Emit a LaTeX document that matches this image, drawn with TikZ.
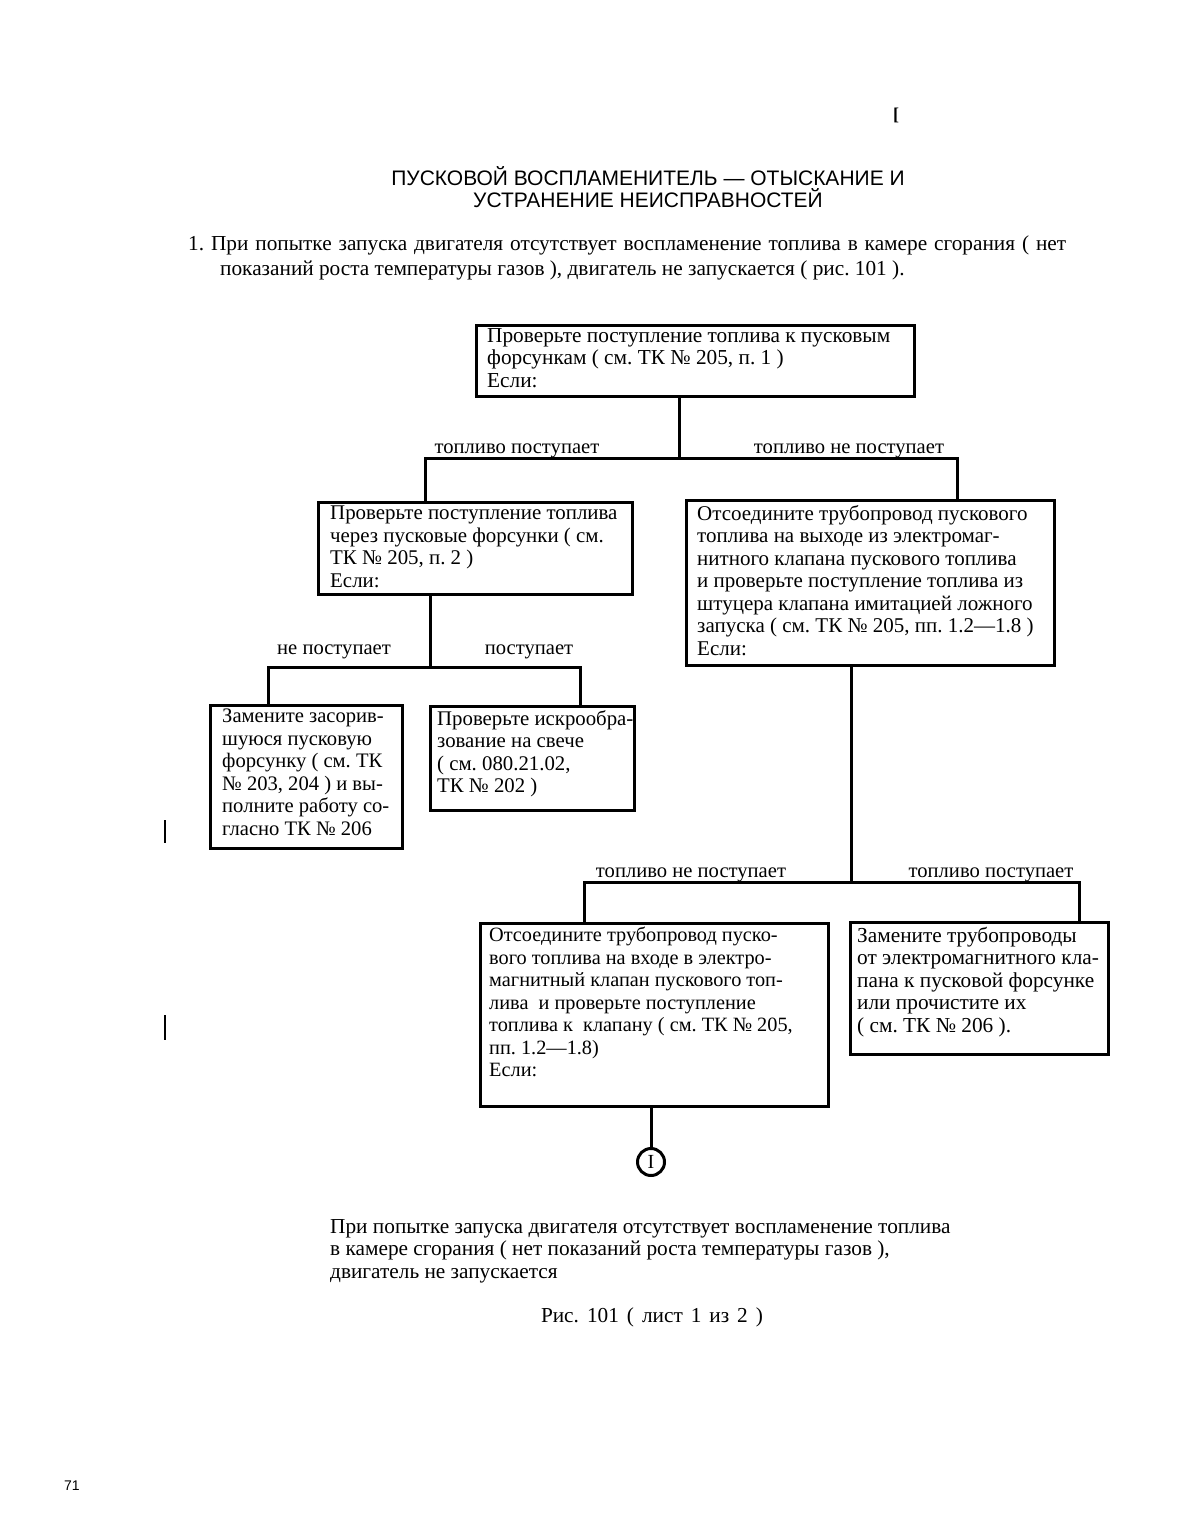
\documentclass[tikz,border=0pt]{standalone}
\usepackage{fontspec}
\setmainfont{Liberation Serif}
\newfontfamily\hsans{Liberation Sans}
\begin{document}
\frenchspacing
\begin{tikzpicture}[x=1pt,y=-1pt,
  box/.style={draw, line width=3pt, anchor=north west, inner sep=0pt},
  txt/.style={anchor=north west, align=left, inner sep=0pt, font=\fontsize{#1}{22.5}\selectfont},
  lbl/.style={anchor=base, inner sep=0pt, font=\fontsize{20.6}{22}\selectfont},
  conn/.style={line width=3pt},
  plain/.style={anchor=base west, inner sep=0pt, font=\fontsize{21.3}{22.5}\selectfont},
  head/.style={anchor=base, inner sep=0pt, font=\hsans\fontsize{21}{24}\selectfont}]
\useasboundingbox[fill=white] (0,0) rectangle (1198,1538);

% heading and text
\node[head] (h1) at (648,186) {ПУСКОВОЙ ВОСПЛАМЕНИТЕЛЬ — ОТЫСКАНИЕ И};
\node[head] (h2) at (648,208) {УСТРАНЕНИЕ НЕИСПРАВНОСТЕЙ};
\node[plain] (p1) at (188,251) {\makebox[878pt][s]{1. При попытке запуска двигателя отсутствует воспламенение топлива в камере сгорания ( нет}};
\node[plain] (p2) at (220,276) {показаний роста температуры газов ), двигатель не запускается ( рис. 101 ).};

% boxes
\node[box, minimum width=438pt, minimum height=71pt] (b1) at (474.5,323.5) {};
\node[box, minimum width=314pt, minimum height=92pt] (b2) at (316.5,500.5) {};
\node[box, minimum width=368pt, minimum height=165pt] (b3) at (684.5,498.5) {};
\node[box, minimum width=192pt, minimum height=143pt] (b4) at (208.5,703.5) {};
\node[box, minimum width=204pt, minimum height=104pt] (b5) at (428.5,704.5) {};
\node[box, minimum width=348pt, minimum height=183pt] (b6) at (478.5,921.5) {};
\node[box, minimum width=258pt, minimum height=132pt] (b7) at (848.5,920.5) {};

% box texts
\node[txt=21.3] (t1) at (487,328) {Проверьте поступление топлива к пусковым\\форсункам ( см. ТК № 205, п. 1 )\\Если:};
\node[txt=20.9] (t2) at (330,506) {Проверьте поступление топлива\\через пусковые форсунки ( см.\\ТК № 205, п. 2 )\\Если:};
\node[txt=21] (t3) at (697,505) {Отсоедините трубопровод пускового\\топлива на выходе из электромаг-\\нитного клапана пускового топлива\\и проверьте поступление топлива из\\штуцера клапана имитацией ложного\\запуска ( см. ТК № 205, пп. 1.2—1.8 )\\Если:};
\node[txt=20.6] (t4) at (222,709) {Замените засорив-\\шуюся пусковую\\форсунку ( см. ТК\\№ 203, 204 ) и вы-\\полните работу со-\\гласно ТК № 206};
\node[txt=20.8] (t5) at (437,710) {Проверьте искрообра-\\зование на свече\\( см. 080.21.02,\\ТК № 202 )};
\node[txt=20.3] (t6) at (489,927) {Отсоедините трубопровод пуско-\\вого топлива на входе в электро-\\магнитный клапан пускового топ-\\лива\ \ и проверьте поступление\\топлива к\ \ клапану ( см. ТК № 205,\\пп. 1.2—1.8)\\Если:};
\node[txt=21.3] (t7) at (857,927) {Замените трубопроводы\\от электромагнитного кла-\\пана к пусковой форсунке\\или прочистите их\\( см. ТК № 206 ).};

% junction coordinates
\coordinate (j1) at (679,458);
\coordinate (j1L) at (425,458);
\coordinate (j1R) at (957,458);
\coordinate (j2) at (430,667);
\coordinate (j2L) at (268,667);
\coordinate (j2R) at (580,667);
\coordinate (j3) at (851,882);
\coordinate (j3L) at (584,882);
\coordinate (j3R) at (1079,882);

% connectors
\draw[conn] (b1.south -| j1) -- (j1);
\draw[conn] (j1L |- b2.north) -- (j1L) -- (j1R) -- (j1R |- b3.north);
\draw[conn] (b2.south -| j2) -- (j2);
\draw[conn] (j2L |- b4.north) -- (j2L) -- (j2R) -- (j2R |- b5.north);
\draw[conn] (b3.south -| j3) -- (j3);
\draw[conn] (j3L |- b6.north) -- (j3L) -- (j3R) -- (j3R |- b7.north);

% connector labels
\node[lbl] (l1) at (517,453) {топливо поступает};
\node[lbl] (l2) at (849,453) {топливо не поступает};
\node[lbl] (l3) at (334,654) {не поступает};
\node[lbl] (l4) at (529,654) {поступает};
\node[lbl] (l5) at (691,877) {топливо не поступает};
\node[lbl] (l6) at (991,877) {топливо поступает};

% off-page connector
\node[draw, circle, line width=3pt, minimum size=27pt, inner sep=0pt, font=\fontsize{20}{22}\selectfont] (c1) at (651,1162) {I};
\draw[conn] (b6.south -| c1) -- (c1.north);

% caption
\node[plain] (cap1) at (330,1233) {При попытке запуска двигателя отсутствует воспламенение топлива};
\node[plain] (cap2) at (330,1255) {в камере сгорания ( нет показаний роста температуры газов ),};
\node[plain] (cap3) at (330,1278) {двигатель не запускается};
\node[anchor=base, inner sep=0pt, font=\fontsize{21.3}{22}\selectfont] (fig) at (652,1322) {\makebox[222pt][s]{Рис. 101 ( лист 1 из 2 )}};

% page marks
\node[anchor=base, inner sep=0pt, font=\bfseries\fontsize{18}{20}\selectfont] (mk) at (896,121) {[};
\draw[line width=2.5pt] (165,820) -- (165,843);
\draw[line width=2.5pt] (165,1015) -- (165,1040);
\node[anchor=base, inner sep=0pt, font=\hsans\fontsize{14}{16}\selectfont] (pg) at (72,1490) {71};
\end{tikzpicture}
\end{document}
